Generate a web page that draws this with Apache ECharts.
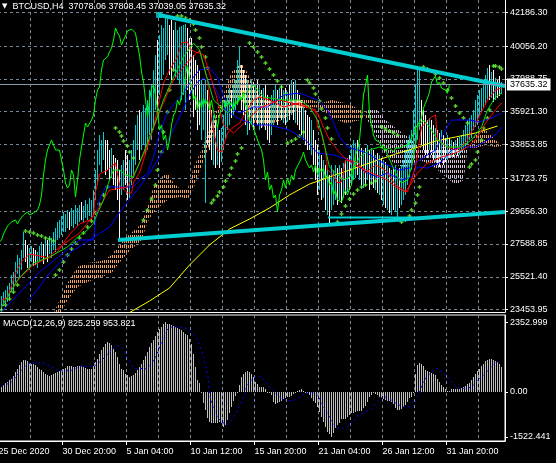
<!DOCTYPE html>
<html>
<head>
<meta charset="utf-8">
<script src="https://cdn.jsdelivr.net/npm/echarts@6.0.0/dist/echarts.min.js"></script>
<style>
html,body{margin:0;padding:0;background:#000;overflow:hidden;}
#chart{width:556px;height:463px;}
</style>
</head>
<body>
<div id="chart"></div>
<script>
// ---------------- DATA ----------------
const symbolName = 'BTCUSD,H4';
const lastOHLC = [37078.06, 37808.45, 37039.05, 37635.32];
const lastPrice = 37635.32;
const macdName = 'MACD(12,26,9)';
const macdNow = [825.259, 953.821];

const priceTicks = [42186.30, 40056.20, 37988.75, 35921.30, 33853.85, 31723.75, 29656.30, 27588.85, 25521.40, 23453.95];
const macdTicks = [2352.999, 0, -1522.441];
const macdTickLabels = ['2352.999', '0.00', '-1522.441'];
const timeTickBars = [-1.5, 30.5, 62.5, 94.5, 126.5, 158.5, 190.5, 222.5];
const timeLabels = ['25 Dec 2020', '30 Dec 20:00', '5 Jan 04:00', '10 Jan 12:00', '15 Jan 20:00', '21 Jan 04:00', '26 Jan 12:00', '31 Jan 20:00'];
const gridBars = [14.5, 30.5, 46.5, 62.5, 78.5, 94.5, 110.5, 126.5, 142.5, 158.5, 174.5, 190.5, 206.5, 222.5, 238.5];

const highs = [24313,24565,24691,24943,25132,25636,25825,26455,26896,26707,
27211,28345,27841,27526,27337,27463,27337,27211,27085,27463,
27715,27589,27967,27841,28093,27967,28345,28597,28975,29101,
29353,29605,29479,29731,29605,29857,29731,30046,29857,30046,
30235,29983,30361,30109,30487,30361,30991,32251,33511,34456,
34141,34645,34141,34141,33511,33637,33196,33007,32881,32251,
32566,32881,33511,33196,32881,33511,34141,35086,35716,36031,
35905,36346,36157,36661,37291,37606,38551,39496,40441,40756,
41386,41197,41827,41890,41386,41701,41071,41575,41071,41260,
41323,41386,41449,41197,40567,40567,39496,39181,38866,38551,
37921,37606,37921,37291,36661,36031,35716,35401,35086,34771,
34897,35716,36661,36976,37417,37291,37606,37921,39181,40000,
38866,38551,38236,37921,37606,37921,37795,37606,37921,37606,
37291,37417,37606,36976,36661,36976,37291,37606,37291,37417,
37606,37291,37417,37165,37606,37921,37795,37921,37291,36976,
36661,36346,36031,35716,35590,35401,34771,34141,33826,33511,
33196,32881,32566,32251,31936,32566,32251,32566,32377,32566,
32377,32692,32881,33007,33196,33826,34141,33952,34141,33826,
33637,33511,33637,33826,33511,33637,33511,33196,33322,33196,
33007,32881,32755,32566,32377,32251,32377,32566,32251,32377,
32566,32881,33511,34141,34456,34771,36031,37606,38551,38677,
36661,36031,35716,35401,35527,35401,35086,34897,34771,34582,
34771,34456,34267,34456,34267,34141,34015,34141,34267,34330,
34456,34771,35086,35401,35527,35716,36031,36661,36976,37291,
37417,37921,38236,38677,38866,38425,38551,38047,37921,38173,
37808.45];

const lows = [23431,23683,23809,23935,24187,24565,24691,25195,25699,25447,
25951,26707,26455,26077,25951,26455,26203,26266,26077,26455,
26707,26329,26833,26455,26959,26707,27211,27085,27841,27967,
28156,28345,28345,28597,28471,28723,28597,28849,28723,28975,
29101,28975,29227,29101,29353,29227,29353,30361,31306,32566,
32125,32881,31936,32251,31621,31747,31306,30991,30361,27841,
30676,30991,31306,30361,30487,31306,31747,32566,33511,32881,
33511,33826,33196,33511,34456,34141,34771,36031,36031,36976,
37921,38236,39181,39496,38236,37921,38551,38110,37921,37606,
36661,36976,36031,37291,36661,37291,35590,36031,34771,35086,
34141,34771,30172,33826,33511,32881,32566,32377,32566,32377,
32755,33511,34141,34771,35086,35527,35716,36031,36346,36661,
36031,35716,35086,34456,34771,35086,34771,35401,35086,34771,
34897,35086,34771,34141,33952,34456,35086,35401,35086,35527,
35401,35212,35086,35275,35401,35716,35401,35212,35086,34771,
34456,34141,33826,33511,33511,33196,32566,31621,30676,30991,
30361,30487,29731,29416,28912,29731,30046,30361,30046,30361,
30172,30487,30676,30865,30991,31306,31621,31747,31936,31621,
31306,31117,31306,31621,30991,31306,31117,30991,30802,30676,
30361,30046,29857,29731,29542,29416,29731,29605,29227,29857,
30046,30361,30676,31306,31747,32251,32881,33511,34141,34771,
33826,33511,33196,33007,33511,33196,32881,32755,32566,32440,
32881,32566,32755,32881,33007,33070,33070,33196,33133,33196,
33385,33511,33637,33826,34141,34267,34771,34960,35086,35716,
35905,36157,36346,36661,36661,36787,36535,36661,36787,36913,
37039.05];

const closes = [23935,24187,24313,24691,24817,25195,25447,25951,26077,26266,
26707,27337,27211,26833,26896,26896,26833,26707,26707,27085,
27211,27085,27463,27337,27589,27715,27841,28219,28471,28723,
28849,28975,28975,29101,28849,29101,29227,29416,29542,29605,
29416,29479,29542,29605,29731,30046,30676,31936,32881,33511,
33826,34141,34015,33511,33385,33511,32881,32251,31432,31117,
31306,32251,31936,30550,31621,32881,33700,34456,35212,34960,
35086,35401,35716,36661,37291,37480,38551,39181,39055,39370,
39685,39937,40441,41197,40882,40693,40126,40441,40693,41008,
41071,41134,41197,40882,40126,39496,38425,37795,36661,35590,
36661,37417,37606,36976,36031,34771,35086,34141,34456,33511,
34141,35086,35716,35905,36661,36346,36976,37165,38236,38866,
37921,37606,36661,36976,36031,36661,36157,36787,36346,36661,
36031,36661,35905,35527,34897,35716,36157,36661,36157,36661,
36283,36535,36031,36661,36409,36976,36661,37165,36346,35905,
35401,35527,34897,34771,34141,34267,33511,32881,31621,32125,
30991,31306,30487,30676,29605,30676,30991,31621,31117,31747,
31306,31936,31621,32251,32125,32755,33007,33385,32881,33007,
32377,32566,32125,32566,31936,32377,32125,32377,31747,31936,
31306,31495,30676,30991,30361,30487,30235,30676,30991,30676,
31117,31306,32251,33196,33511,34141,35527,36976,37606,38236,
35716,35086,34456,34141,34267,34015,33637,33826,33511,33385,
33637,33511,33385,33637,33511,33637,33511,33763,33637,33826,
34015,34267,34393,34897,34897,35275,35527,36157,36157,36787,
37165,37795,37921,38173,37606,37795,37417,37543,37291,37078.06,
37635.32];

// moving averages / ichimoku lines: [bar, price]
const redFast = [[0,24061],[3,24187],[7,25762],[10,26455],[14,26959],[19,26833],[24,26707],[28,27085],[32,27841],[35,28345],[39,28849],[44,29101],[46,29353],[47,30865],[49,31999],[53,32251],[57,32692],[59,31306],[63,30802],[65,30802],[66,31495],[69,32062],[73,33700],[76,34960],[79,36661],[81,37732],[84,38551],[88,39370],[90,40252],[93,40315],[95,39811],[98,39622],[99,39811],[103,37921],[105,35401],[108,33511],[110,33385],[113,34582],[116,34960],[119,35212],[123,36031],[126,36661],[129,36850],[134,36661],[141,36220],[149,36472],[157,36031],[158,34960],[160,34582],[162,33511],[163,32251],[165,32062],[168,31432],[170,31495],[172,32881],[178,32755],[182,32062],[187,32566],[192,32251],[197,31306],[203,30865],[207,32440],[210,34960],[215,35590],[217,35716],[218,34141],[223,33700],[227,33511],[230,33700],[233,34141],[238,35401],[243,36661],[247,37291],[250,37417]];
const redSlow = [[0,23620],[4,24502],[9,25447],[16,26266],[23,26707],[29,27400],[39,28282],[48,29731],[54,30991],[63,31180],[71,33196],[79,35905],[86,37921],[93,39055],[98,39685],[101,39496],[104,38362],[108,36661],[111,35086],[116,34582],[122,35275],[129,36157],[139,36661],[149,36346],[154,36157],[158,35842],[161,34960],[164,34141],[168,33511],[171,33070],[177,32566],[184,32125],[193,31621],[197,31180],[202,30865],[205,31432],[208,32062],[213,32692],[220,33070],[227,33322],[233,33700],[237,34141],[242,35212],[247,36031],[250,36472]];
const blueFast = [[0,23305],[19,25825],[39,27841],[46,27841],[47,29101],[49,30361],[52,31180],[66,31180],[69,31621],[73,32062],[76,33070],[79,34582],[83,35905],[88,36661],[93,37480],[96,38110],[99,38551],[104,38677],[108,38110],[111,36850],[116,36031],[119,35842],[126,36220],[133,36220],[141,36976],[149,37102],[158,36661],[163,36031],[166,35212],[169,34330],[173,33700],[178,33511],[183,33322],[188,32881],[193,32566],[199,32251],[204,32377],[209,32881],[217,33511],[222,34771],[225,35401],[234,35401],[239,35275],[245,35527],[250,35842]];
const blueSlow = [[14,24061],[24,25762],[34,27022],[44,27841],[54,28660],[61,29920],[69,31180],[74,32062],[79,33070],[84,34330],[89,35590],[94,36976],[98,37795],[101,38047],[106,37606],[112,36031],[118,35527],[127,35086],[134,35086],[144,34771],[152,34141],[158,33322],[166,33196],[174,32881],[183,32062],[188,31810],[193,32062],[200,31621],[205,31810],[208,32440],[213,32377],[220,32755],[225,33511],[230,33700],[237,33700],[243,34141],[248,34582],[250,34960]];
const greenMA = [[0,23620],[8,25321],[16,26392],[24,26770],[33,27400],[38,28030],[43,28471],[46,28912],[48,29542],[51,30361],[54,31621],[56,32251],[59,32251],[62,31936],[66,31810],[71,33322],[76,34960],[81,36661],[86,38110],[91,39370],[96,40252],[99,39811],[103,37921],[106,36661],[113,35842],[119,36661],[126,37606],[131,36850],[141,36661],[149,36661],[154,36220],[158,35401],[160,34582],[162,33511],[164,32440],[167,32062],[171,31621],[174,31810],[179,33070],[184,33511],[189,33700],[192,33511],[197,32062],[200,31432],[203,31621],[205,32440],[207,33700],[208,34960],[211,35401],[214,34960],[218,34141],[223,33700],[230,33700],[235,34141],[240,34960],[243,36031],[247,36850],[250,37102]];
const yellowMA = [[61,23053],[74,23998],[84,24817],[94,26266],[104,27526],[114,28534],[124,29164],[134,29857],[144,30676],[154,31369],[164,31810],[174,32251],[184,32692],[197,33259],[207,33637],[217,34078],[227,34330],[237,34582],[248,35023]];

// ichimoku cloud: bars, span A, span B
const cloudBars = [25,33,38,43,50,55,58,63,70,73,76,80,83,86,90,93,96,100,103,106,110,115,120,123,126,131,140,148,155,160,165,172,180,183,187,192,197,202,209,215,221,227,231,233,237,242,247,250];
const spanA = [22927,25132,26140,26392,26518,26896,27400,28093,28849,29920,31180,31810,32062,31432,30991,30991,32377,33511,34456,35527,36661,38425,38992,38362,37480,36661,36472,36787,36661,36472,36661,36472,36031,35401,34456,33196,32566,32440,32881,32566,31936,31306,31621,33511,34456,34771,34141,33826];
const spanB = [22171,24061,24880,25195,25510,25762,26266,27022,27841,28975,29605,30046,30361,30487,30550,30361,31117,32440,33511,34582,35905,36661,36661,36031,35275,34960,35401,36031,36220,36157,35527,35212,35401,36031,36157,35401,34897,34456,33700,33511,33700,33511,33511,33511,33637,33826,33700,33763];

// parabolic SAR dots
const sar = [[0,23431],[2,23746],[4,24124],[6,24565],[8,25006],
[12,28408],[14,28345],[16,28282],[18,28156],[20,28093],[22,27967],[24,27904],[26,27778],
[27,25636],[29,25951],[31,26455],[33,26896],[35,27274],[37,27652],[39,27967],[41,28282],[43,28660],[45,29038],[47,29542],[49,30109],[51,30676],[53,31180],
[57,34897],[59,34645],[60,34393],[61,34078],[63,33763],[64,33385],[66,33007],
[71,29101],[73,29731],[75,30424],[77,31306],[78,32251],[80,33385],[81,34645],[83,35905],[84,37291],[86,38551],
[88,41953],[90,41953],[92,41827],[94,41701],[96,41449],[97,41071],[99,40567],[100,40000],[102,39370],[103,38677],
[105,30172],[106,30361],[108,30613],[109,30865],[111,31180],[112,31558],[114,31936],[115,32377],[117,32818],[118,33259],[120,33637],
[124,40252],[126,40000],[128,39685],[130,39370],[132,38992],[134,38614],[136,38236],[138,37858],[140,37480],[142,37039],
[143,33952],[145,34078],[147,34204],[149,34393],[151,34645],
[153,37921],[154,37732],[156,37417],[157,37039],[159,36598],[160,36094],[162,35527],[163,34897],[165,34204],
[168,28975],[170,29479],[172,29983],[174,30424],[176,30739],[178,30991],[180,31180],[182,31306],[185,31432],[187,31558],
[190,34960],[192,34834],[194,34708],[196,34582],[198,34456],
[200,28975],[202,29101],[204,29353],[205,29731],[207,30172],[208,30676],[209,31180],
[211,38740],[213,38614],[215,38488],[217,38299],[219,38047],[221,37732],[223,37291],[225,36787],[227,36283],[229,35842],[231,35527],[233,35212],
[234,32440],[235,32629],[237,32881],[238,33385],[240,34141],[241,34897],[243,35527],[244,36031],
[246,38803],[247,38803],[249,38740],[250,38614]];

// trendlines drawn on the chart
const trendUpper = [[78.75,42016],[251.75,37543]];
const trendLower = [[58.25,27841],[251.75,29605]];
const trendFlat = [[163.25,29258],[205.75,29258]];

// MACD
const macdHist = [168,224,280,336,392,448,538,672,784,896,
1008,1086,1086,1042,974,952,930,896,840,784,
728,672,616,560,549,560,594,638,672,706,
728,784,818,862,885,862,840,840,862,885,
862,840,818,784,762,784,862,1008,1120,1266,
1400,1512,1624,1669,1646,1568,1456,1344,1176,952,
784,750,616,560,504,526,560,638,728,840,
952,1064,1198,1344,1512,1646,1758,1870,2016,2128,
2184,2296,2353,2296,2274,2240,2206,2184,2162,2128,
2072,2016,1960,1904,1792,1624,1288,840,392,280,
-50,-392,-616,-896,-1008,-1042,-1064,-1064,-1042,-1008,
-1064,-1176,-1120,-952,-728,-504,-302,-146,-56,224,
504,616,672,706,672,616,482,336,258,146,
146,146,78,-20,-56,-112,-336,-414,-370,-336,
-302,-258,-224,-168,-190,-146,-78,-34,34,56,
78,34,-34,-56,-112,-224,-302,-392,-526,-672,
-840,-1008,-1176,-1344,-1422,-1522,-1378,-1232,-1120,-1042,
-930,-907,-907,-862,-784,-728,-706,-683,-638,-638,
-638,-560,-482,-336,-168,-112,-56,-78,-112,-168,
-224,-258,-280,-302,-302,-336,-414,-560,-616,-616,
-594,-526,-448,-336,-224,-168,-56,616,896,974,
952,862,750,706,672,638,616,560,448,336,
224,146,78,34,34,78,101,101,78,78,
112,146,190,258,302,392,504,616,706,784,
862,952,1042,1086,1120,1109,1064,1042,1008,952,
825.259];
const macdSignal = [[0,190],[5,336],[10,728],[15,974],[20,974],[25,840],[30,706],[35,728],[40,862],[45,840],[50,1064],[55,1400],[58,1546],[60,1512],[63,1176],[67,784],[72,784],[77,1176],[82,2016],[85,2184],[90,2184],[95,2016],[98,1736],[101,1176],[103,616],[104,-56],[107,-728],[110,-1008],[113,-1098],[115,-952],[118,-616],[121,-168],[123,224],[127,504],[130,526],[131,392],[135,112],[138,-112],[141,-258],[145,-302],[148,-224],[151,-78],[155,-34],[158,-112],[161,-504],[165,-952],[168,-1232],[171,-1232],[175,-1064],[178,-840],[181,-706],[185,-560],[188,-336],[191,-168],[195,-280],[198,-414],[201,-504],[205,-504],[208,-168],[211,336],[215,672],[218,784],[221,616],[225,336],[228,146],[231,112],[235,168],[238,392],[241,560],[245,840],[248,1008],[250,953.821]];

// ---------------- CHART ----------------
const FONT = 'Liberation Sans';
const TXT = '#ffffff';
const GRIDC = '#778899';
const CYAN = '#00ced1';

function hatch(color) {
  const c = document.createElement('canvas');
  c.width = 2; c.height = 5;
  const g = c.getContext('2d');
  g.fillStyle = color;
  g.fillRect(0, 0, 1, 3);
  return { image: c, repeat: 'repeat' };
}
const hatchBull = hatch('#f4a460');
const hatchBear = hatch('#d8bfd8');

const barData = highs.map((h, i) => [i, lows[i], h]);
const histData = macdHist.map((v, i) => [i, v]);
const chikou = closes.map((c, i) => [i - 26, c]);
const cloudData = cloudBars.map((b, k) => [b, spanA[k], spanB[k]]);

function lineSeries(data, color, width, extra) {
  return Object.assign({
    type: 'line', xAxisIndex: 0, yAxisIndex: 0, data: data,
    symbol: 'none', silent: true, clip: true,
    lineStyle: { color: color, width: width || 1 }
  }, extra || {});
}

const chart = echarts.init(document.getElementById('chart'), null, { renderer: 'canvas' });

const option = {
  backgroundColor: '#000000',
  animation: false,
  title: [
    {
      text: '{t|▼}  ' + symbolName + '  ' + lastOHLC.map(v => v.toFixed(2)).join(' '),
      left: 2, top: 2, padding: 0,
      textStyle: { color: TXT, fontSize: 9, fontFamily: FONT, fontWeight: 'normal',
        rich: { t: { fontSize: 7, color: TXT, fontFamily: 'DejaVu Sans' } } }
    },
    {
      text: macdName + ' ' + macdNow[0].toFixed(3) + ' ' + macdNow[1].toFixed(3),
      left: 3, top: 319, padding: 0,
      textStyle: { color: TXT, fontSize: 9, fontFamily: FONT, fontWeight: 'normal' }
    }
  ],
  grid: [
    { left: -2, top: 0, width: 507, height: 312, outerBoundsMode: 'none', containLabel: false },
    { left: -2, top: 315, width: 507, height: 126, outerBoundsMode: 'none', containLabel: false,
      show: true, borderColor: '#ffffff', borderWidth: 1, backgroundColor: 'transparent' }
  ],
  xAxis: [
    { type: 'value', gridIndex: 0, min: -1.75, max: 251.75, position: 'bottom',
      axisLine: { show: true, onZero: false, lineStyle: { color: '#ffffff', width: 1 } },
      axisTick: { show: false, customValues: gridBars },
      axisLabel: { show: false },
      splitLine: { show: true, lineStyle: { color: GRIDC, type: [3, 3], width: 1 } } },
    { type: 'value', gridIndex: 1, min: -1.75, max: 251.75, position: 'bottom',
      axisLine: { show: false, onZero: false },
      axisTick: { show: false, customValues: gridBars },
      axisLabel: { show: false },
      splitLine: { show: true, lineStyle: { color: GRIDC, type: [3, 3], width: 1 } } },
    { type: 'value', gridIndex: 1, min: -1.75, max: 251.75, position: 'bottom',
      axisLine: { show: true, onZero: false, lineStyle: { color: '#ffffff', width: 1 } },
      axisTick: { show: true, customValues: timeTickBars, length: 4, lineStyle: { color: '#ffffff' } },
      axisLabel: { show: true, customValues: timeTickBars, align: 'left', margin: 6,
        color: TXT, fontSize: 9, fontFamily: FONT,
        formatter: function (v) {
          for (let k = 0; k < timeTickBars.length; k++) if (Math.abs(timeTickBars[k] - v) < 0.01) return timeLabels[k];
          return '';
        } },
      splitLine: { show: false } }
  ],
  yAxis: [
    { type: 'value', gridIndex: 0, position: 'right', min: 23305, max: 42961,
      axisLine: { show: true, onZero: false, lineStyle: { color: '#ffffff', width: 1 } },
      axisTick: { show: true, customValues: priceTicks, length: 3, lineStyle: { color: '#ffffff' } },
      axisLabel: { show: true, customValues: priceTicks, margin: 5, color: TXT, fontSize: 9, fontFamily: FONT,
        formatter: v => v.toFixed(2) },
      splitLine: { show: true, lineStyle: { color: GRIDC, type: [3, 3], width: 1 } } },
    { type: 'value', gridIndex: 1, position: 'right', min: -1660, max: 2590,
      axisLine: { show: true, onZero: false, lineStyle: { color: '#ffffff', width: 1 } },
      axisTick: { show: true, customValues: macdTicks, length: 3, lineStyle: { color: '#ffffff' } },
      axisLabel: { show: true, customValues: macdTicks, margin: 5, color: TXT, fontSize: 9, fontFamily: FONT,
        formatter: function (v) {
          for (let k = 0; k < macdTicks.length; k++) if (Math.abs(macdTicks[k] - v) < 0.01) return macdTickLabels[k];
          return '';
        } },
      splitLine: { show: false } }
  ],
  series: [
    // ichimoku cloud (hatched)
    {
      type: 'custom', xAxisIndex: 0, yAxisIndex: 0, data: cloudData, clip: true, silent: true,
      dimensions: ['bar', 'a', 'b'], encode: { x: 'bar', y: ['a', 'b'] },
      renderItem: function (params, api) {
        const k = params.dataIndex;
        if (k >= cloudData.length - 1) return null;
        const n = cloudData[k + 1];
        const p1 = api.coord([api.value(0), api.value(1)]);
        const q1 = api.coord([api.value(0), api.value(2)]);
        const p2 = api.coord([n[0], n[1]]);
        const q2 = api.coord([n[0], n[2]]);
        const bull = (api.value(1) + n[1]) >= (api.value(2) + n[2]);
        return { type: 'polygon', shape: { points: [p1, p2, q2, q1] }, style: { fill: bull ? hatchBull : hatchBear } };
      }
    },
    // price bars (cyan = close up, white = close down)
    {
      type: 'custom', xAxisIndex: 0, yAxisIndex: 0, data: barData, clip: true, silent: true,
      dimensions: ['i', 'low', 'high'], encode: { x: 'i', y: ['low', 'high'] },
      renderItem: function (params, api) {
        const i = params.dataIndex;
        const x = api.value(0);
        const lo = api.coord([x, api.value(1)]);
        const hi = api.coord([x, api.value(2)]);
        const prev = i > 0 ? closes[i - 1] : closes[i];
        const up = closes[i] >= prev;
        const top = Math.round(hi[1]);
        return { type: 'rect',
          shape: { x: Math.round(lo[0] - 0.5), y: top, width: 1, height: Math.max(1, Math.round(lo[1]) - top) },
          style: { fill: up ? CYAN : '#ffffff' } };
      }
    },
    lineSeries(yellowMA, '#ffff00', 1),
    lineSeries(blueSlow, '#0000ff', 1),
    lineSeries(blueFast, '#0000ff', 1),
    lineSeries(redSlow, '#ff0000', 1),
    lineSeries(redFast, '#ff0000', 1),
    lineSeries(greenMA, '#00e000', 1, {
      markLine: {
        silent: true, symbol: ['none', 'none'], animation: false,
        data: [{ yAxis: lastPrice }],
        lineStyle: { color: '#8c9aa8', width: 1, type: 'solid' },
        label: { show: true, position: 'end', distance: 2, formatter: () => lastPrice.toFixed(2),
          color: '#000000', backgroundColor: '#ffffff', padding: [2, 3, 1, 3],
          fontSize: 9, fontFamily: FONT }
      }
    }),
    lineSeries(chikou, '#00ff00', 1),
    {
      type: 'scatter', xAxisIndex: 0, yAxisIndex: 0, data: sar, silent: true,
      symbol: 'path://M1,0H2V1H3V2H2V3H1V2H0V1H1Z', symbolSize: 4,
      itemStyle: { color: '#6cff3c' }
    },
    lineSeries(trendUpper, CYAN, 4),
    lineSeries(trendLower, CYAN, 4),
    lineSeries(trendFlat, CYAN, 2),
    {
      type: 'scatter', xAxisIndex: 0, yAxisIndex: 0, silent: true,
      data: [trendUpper[0]], symbol: 'rect', symbolSize: 6, itemStyle: { color: CYAN }
    },
    // MACD
    {
      type: 'custom', xAxisIndex: 1, yAxisIndex: 1, data: histData, clip: true, silent: true,
      dimensions: ['i', 'v'], encode: { x: 'i', y: 'v' },
      renderItem: function (params, api) {
        const x = api.value(0), v = api.value(1);
        const p = api.coord([x, v]);
        const z = api.coord([x, 0]);
        const t = Math.round(Math.min(p[1], z[1]));
        const b = Math.round(Math.max(p[1], z[1]));
        return { type: 'rect', shape: { x: Math.round(p[0] - 0.5), y: t, width: 1, height: Math.max(1, b - t) },
          style: { fill: '#c0c0c0' } };
      }
    },
    {
      type: 'line', xAxisIndex: 1, yAxisIndex: 1, data: macdSignal, symbol: 'none', silent: true,
      smooth: 0.3, lineStyle: { color: '#0000ff', width: 1, type: [2, 3] }
    }
  ]
};
chart.setOption(option);
</script>
</body>
</html>
